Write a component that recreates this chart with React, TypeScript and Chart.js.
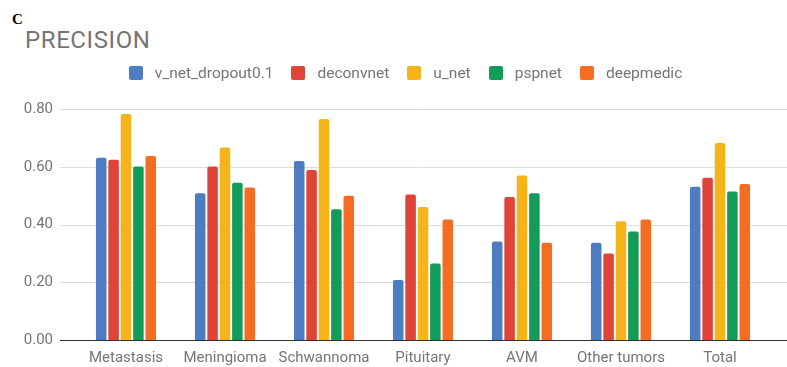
import React, { useEffect, useRef } from "react";
import { Chart, registerables } from "chart.js";

Chart.register(...registerables);

const categories = ["Metastasis", "Meningioma", "Schwannoma", "Pituitary", "AVM", "Other tumors", "Total"];
const seriesNames = ["v_net_dropout0.1", "deconvnet", "u_net", "pspnet", "deepmedic"];
const vNetDropout = [0.631, 0.508, 0.62, 0.208, 0.341, 0.337, 0.531];
const deconvnet = [0.624, 0.601, 0.589, 0.504, 0.495, 0.3, 0.562];
const uNet = [0.783, 0.667, 0.765, 0.461, 0.57, 0.411, 0.682];
const pspnet = [0.601, 0.545, 0.453, 0.265, 0.508, 0.376, 0.514];
const deepmedic = [0.637, 0.528, 0.5, 0.417, 0.337, 0.417, 0.54];
const yTicks = [0, 0.2, 0.4, 0.6, 0.8];
const colors = ["#4e7cc2", "#de4437", "#f5b51a", "#139c59", "#f46d22"];

const FONT = "Roboto, 'Noto Sans', sans-serif";
const GREY = "#757575";

const gridPlugin = {
  id: "extGrid",
  beforeDatasetsDraw(chart: any) {
    const { ctx } = chart;
    const y = chart.scales.y;
    ctx.save();
    yTicks.forEach((v) => {
      const py = Math.round(y.getPixelForValue(v)) + 0.5;
      ctx.beginPath();
      ctx.strokeStyle = v === 0 ? "#333333" : "#dddddd";
      ctx.lineWidth = v === 0 ? 1.2 : 1;
      ctx.moveTo(60, py);
      ctx.lineTo(chart.width, py);
      ctx.stroke();
    });
    ctx.restore();
  },
};

export default function App() {
  const ref = useRef<HTMLCanvasElement>(null);
  useEffect(() => {
    if (!ref.current) return;
    const all = [vNetDropout, deconvnet, uNet, pspnet, deepmedic];
    const chart = new Chart(ref.current, {
      type: "bar",
      data: {
        labels: categories,
        datasets: all.map((d, i) => ({
          label: seriesNames[i],
          data: d,
          backgroundColor: colors[i],
          borderRadius: 2,
          borderSkipped: "bottom",
          categoryPercentage: 0.626,
          barPercentage: 0.85,
        })),
      },
      options: {
        animation: false,
        responsive: false,
        maintainAspectRatio: false,
        layout: { padding: { left: 0, right: 17.5, top: 109, bottom: 0 } },
        plugins: {
          tooltip: { enabled: false },
          legend: { display: false },
        },
        scales: {
          x: {
            afterFit(scale: any) {
              scale.height = 27;
            },
            grid: { display: false, drawTicks: false },
            border: { display: false },
            ticks: {
              color: GREY,
              font: { family: FONT, size: 15, lineHeight: 1.15 },
              padding: 9.5,
              maxRotation: 0,
              autoSkip: false,
            },
          },
          y: {
            min: 0,
            max: 0.8,
            afterFit(scale: any) {
              scale.width = 76.5;
              scale.paddingTop = 9;
              scale.paddingBottom = 9;
            },
            afterBuildTicks(scale: any) {
              scale.ticks = yTicks.map((v) => ({ value: v }));
            },
            grid: { display: false, drawTicks: false },
            border: { display: false },
            ticks: {
              color: GREY,
              font: { family: FONT, size: 15 },
              padding: 23.5,
              callback: (v: any) => Number(v).toFixed(2),
            },
          },
        },
      },
      plugins: [gridPlugin],
    });
    return () => chart.destroy();
  }, []);

  return (
    <div style={{ position: "fixed", left: 0, top: 0, width: 787, height: 367, background: "#ffffff" }}>
      <div
        style={{
          position: "absolute",
          left: 12,
          top: 12,
          fontFamily: "'Liberation Serif', 'Times New Roman', serif",
          fontWeight: "bold",
          fontSize: 15,
          lineHeight: "15px",
          color: "#000",
        }}
      >
        C
      </div>
      <div
        style={{
          position: "absolute",
          left: 25,
          top: 28,
          fontFamily: FONT,
          fontSize: 24,
          letterSpacing: 0.6,
          lineHeight: 1,
          color: GREY,
        }}
      >
        PRECISION
      </div>
      <div
        style={{
          position: "absolute",
          left: 0,
          top: 66,
          width: 811,
          height: 14,
          display: "flex",
          justifyContent: "center",
          alignItems: "center",
          fontFamily: FONT,
          fontSize: 15.5,
          color: GREY,
          zIndex: 2,
        }}
      >
        {seriesNames.map((n, i) => (
          <div key={n} style={{ display: "flex", alignItems: "center", marginLeft: i === 0 ? 0 : 18 }}>
            <span
              style={{
                display: "inline-block",
                width: 14,
                height: 14,
                borderRadius: 2,
                background: colors[i],
                marginRight: 12,
              }}
            />
            <span style={{ lineHeight: "14px", whiteSpace: "nowrap" }}>{n}</span>
          </div>
        ))}
      </div>
      <canvas ref={ref} width={787} height={367} style={{ position: "absolute", left: 0, top: 0 }} />
    </div>
  );
}
